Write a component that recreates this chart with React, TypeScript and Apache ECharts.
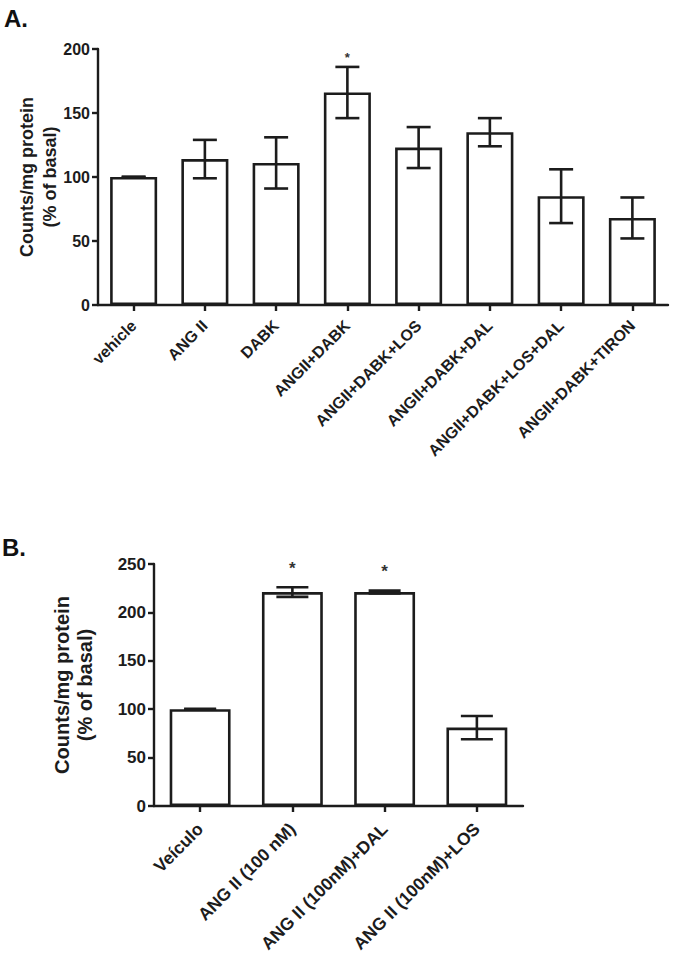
import React, { useEffect, useRef } from "react";
import * as echarts from "echarts";

// Panel A data
const catsA = [
  "vehicle",
  "ANG II",
  "DABK",
  "ANGII+DABK",
  "ANGII+DABK+LOS",
  "ANGII+DABK+DAL",
  "ANGII+DABK+LOS+DAL",
  "ANGII+DABK+TIRON",
];
const meanA = [100, 114, 111, 166, 123, 135, 85, 68];
const semA = [0.3, 15, 20, 20, 16, 11, 21, 16];
const sigA = [0, 0, 0, 1, 0, 0, 0, 0];
const ticksA = { min: 0, max: 200, interval: 50 };

// Panel B data
const catsB = ["Veículo", "ANG II (100 nM)", "ANG II (100nM)+DAL", "ANG II (100nM)+LOS"];
const meanB = [100, 221, 221, 81];
const semB = [0.3, 5, 1.5, 12];
const sigB = [0, 1, 1, 0];
const ticksB = { min: 0, max: 250, interval: 50 };

const FONT = '"Liberation Sans", Arial, Helvetica, sans-serif';
const INK = "#1c1c1c";

function errSeries(idx: number, means: number[], sems: number[], sigs: number[], capHalf: number, starGap: number, starSize: number) {
  return {
    type: "custom",
    xAxisIndex: idx,
    yAxisIndex: idx,
    z: 5,
    data: means.map((m, i) => [i, m, sems[i], sigs[i]]),
    encode: { x: 0, y: 1 },
    renderItem: (params: any, api: any) => {
      const i = api.value(0);
      const m = api.value(1);
      const e = api.value(2);
      const s = api.value(3);
      const top = api.coord([i, m + e]);
      const bot = api.coord([i, m - e]);
      const st = { stroke: INK, lineWidth: 2.6 };
      const children: any[] = [
        { type: "line", shape: { x1: top[0], y1: top[1], x2: bot[0], y2: bot[1] }, style: st },
        { type: "line", shape: { x1: top[0] - capHalf, y1: top[1], x2: top[0] + capHalf, y2: top[1] }, style: st },
        { type: "line", shape: { x1: bot[0] - capHalf, y1: bot[1], x2: bot[0] + capHalf, y2: bot[1] }, style: st },
      ];
      if (s) {
        children.push({
          type: "text",
          style: {
            text: "*",
            x: top[0],
            y: top[1] - starGap,
            align: "center",
            verticalAlign: "middle",
            font: `bold ${starSize}px ${FONT}`,
            fill: "#333",
          },
        });
      }
      return { type: "group", children };
    },
  };
}

function barSeries(idx: number, means: number[]) {
  return {
    type: "bar",
    xAxisIndex: idx,
    yAxisIndex: idx,
    data: means,
    barWidth: "66%",
    itemStyle: { color: "#ffffff", borderColor: INK, borderWidth: 2.6 },
    z: 2,
  };
}

export default function App() {
  const ref = useRef<HTMLDivElement>(null);
  useEffect(() => {
    if (!ref.current) return;
    const chart = echarts.init(ref.current, null, { renderer: "svg" });
    const axisLine = { show: true, lineStyle: { color: INK, width: 2.4 } };
    const axisTick = { show: true, length: 6, lineStyle: { color: INK, width: 2.4 } };
    const option: any = {
      animation: false,
      backgroundColor: "#ffffff",
      grid: [
        { left: 98, top: 49, width: 570, height: 256 },
        { left: 154, top: 564, width: 369, height: 242 },
      ],
      xAxis: [
        {
          type: "category",
          gridIndex: 0,
          data: catsA,
          axisLine,
          axisTick: { ...axisTick, alignWithLabel: true },
          axisLabel: { rotate: 45, margin: 18, color: INK, fontWeight: "bold", fontSize: 16, fontFamily: FONT, interval: 0 },
        },
        {
          type: "category",
          gridIndex: 1,
          data: catsB,
          axisLine,
          axisTick: { ...axisTick, alignWithLabel: true },
          axisLabel: { rotate: 45, margin: 20, color: INK, fontWeight: "bold", fontSize: 17.5, fontFamily: FONT, interval: 0 },
        },
      ],
      yAxis: [
        {
          type: "value",
          gridIndex: 0,
          ...ticksA,
          axisLine,
          axisTick,
          splitLine: { show: false },
          axisLabel: { margin: 8, color: INK, fontWeight: "bold", fontSize: 16, fontFamily: FONT },
          name: "Counts/mg protein\n(% of basal)",
          nameLocation: "middle",
          nameRotate: 90,
          nameGap: 37,
          nameMoveOverlap: false,
          nameTextStyle: { color: INK, fontWeight: "bold", fontSize: 18, fontFamily: FONT, lineHeight: 23 },
        },
        {
          type: "value",
          gridIndex: 1,
          ...ticksB,
          axisLine,
          axisTick,
          splitLine: { show: false },
          axisLabel: { margin: 8, color: INK, fontWeight: "bold", fontSize: 17, fontFamily: FONT },
          name: "Counts/mg protein\n(% of basal)",
          nameLocation: "middle",
          nameRotate: 90,
          nameGap: 58,
          nameTextStyle: { color: INK, fontWeight: "bold", fontSize: 20, fontFamily: FONT, lineHeight: 23 },
        },
      ],
      graphic: [
        { type: "text", left: 4, top: 6, style: { text: "A.", font: `bold 24px ${FONT}`, fill: "#111" } },
        { type: "text", left: 2, top: 535, style: { text: "B.", font: `bold 24px ${FONT}`, fill: "#111" } },
      ],
      series: [
        barSeries(0, meanA),
        errSeries(0, meanA, semA, sigA, 12, 9, 13),
        barSeries(1, meanB),
        errSeries(1, meanB, semB, sigB, 16, 19, 17),
      ],
    };
    chart.setOption(option);
    return () => chart.dispose();
  }, []);
  return (
    <div
      ref={ref}
      style={{ position: "absolute", left: 0, top: 0, width: 675, height: 964 }}
    />
  );
}
